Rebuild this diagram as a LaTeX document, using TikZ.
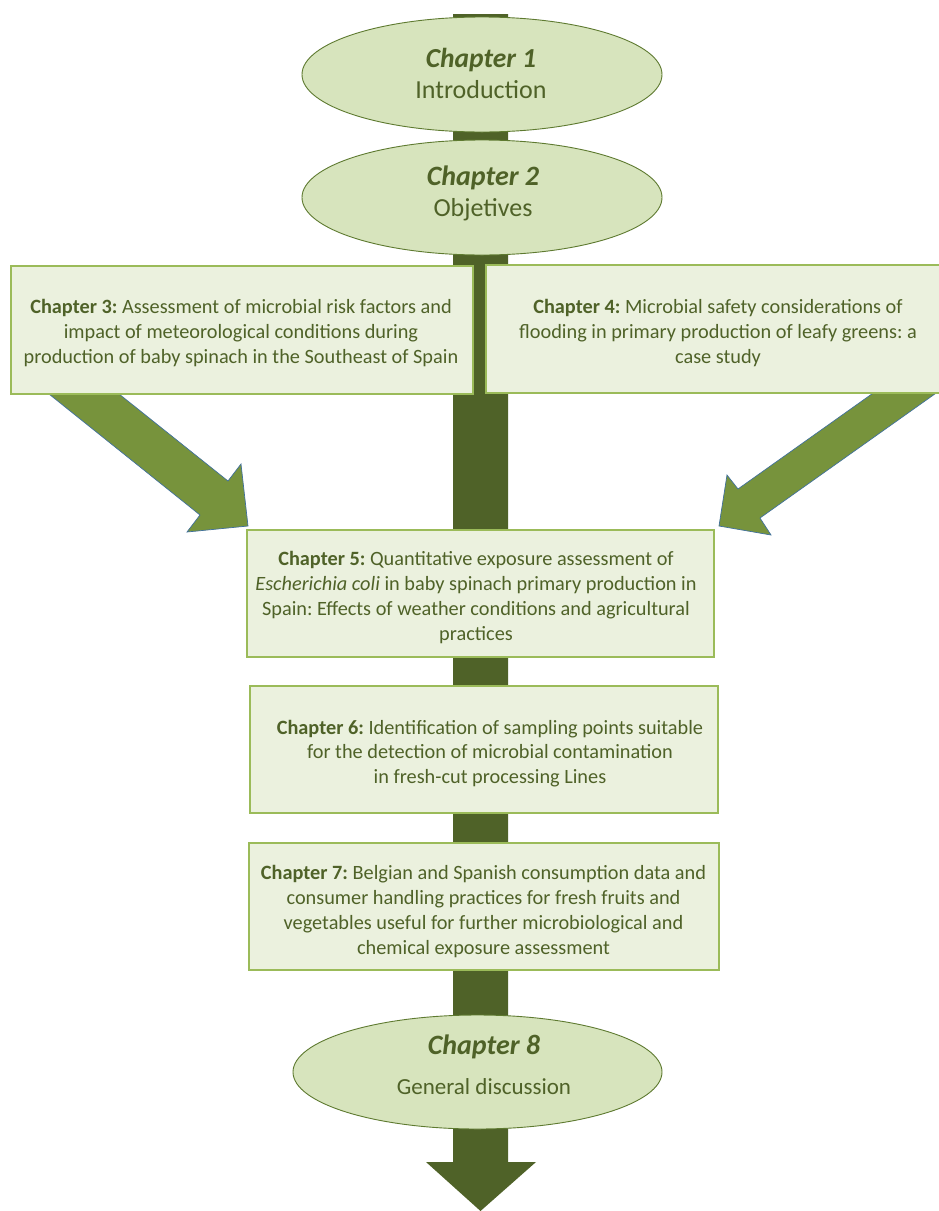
\documentclass[tikz,border=0pt]{standalone}
\usepackage{fontspec}
\setmainfont{Carlito}
\usetikzlibrary{shapes.geometric,calc}
\definecolor{shaftc}{HTML}{4F6228}
\definecolor{arrowc}{HTML}{77933C}
\definecolor{arrowline}{HTML}{41719C}
\definecolor{ellfill}{HTML}{D7E4BD}
\definecolor{ellline}{HTML}{5E7A30}
\definecolor{boxfill}{HTML}{EBF1DE}
\definecolor{boxline}{HTML}{9BBB59}
\definecolor{txt}{HTML}{4F6228}
\frenchspacing
\begin{document}
\begin{tikzpicture}[x=1pt,y=-1pt,
  chapell/.style={ellipse, draw=ellline, line width=0.9pt, fill=ellfill, inner sep=0pt},
  chapbox/.style={rectangle, draw=boxline, line width=1.4pt, fill=boxfill, inner sep=0pt},
  boxtext/.style={align=center, text=txt, inner sep=0pt, font=\fontsize{20.3}{24.8}\selectfont},
  elltext/.style={align=center, text=txt, inner sep=0pt},
  blockarrow/.style={fill=arrowc, draw=arrowline, line width=0.7pt, line join=miter}
]
\useasboundingbox (0,0) rectangle (939,1211);
\clip (0,0) rectangle (939,1211);
\fill[white] (0,0) rectangle (939,1211);

% main shaft
\coordinate (shafttop) at (480.5,14);
\coordinate (shafttip) at (480.5,1211);
\fill[shaftc] ($(shafttop)+(-27.5,0)$) -- ($(shafttop)+(27.5,0)$)
  -- ($(shafttip)+(27.5,-49)$) -- ($(shafttip)+(55.5,-49)$) -- (shafttip)
  -- ($(shafttip)+(-54.5,-49)$) -- ($(shafttip)+(-27.5,-49)$) -- cycle;

% diagonal block arrows
\path[blockarrow] (24,374) -- (94,374) -- (228,481) -- (241,464) -- (248,526)
  -- (187,532) -- (200,515) -- cycle;
\path[blockarrow] (900,374) -- (963,374) -- (760,518) -- (771,535) -- (719,526)
  -- (727,475) -- (738,489) -- cycle;

% boxes
\node[chapbox, minimum width=462pt, minimum height=128pt] (b3) at (242,330) {};
\node[chapbox, minimum width=464pt, minimum height=128pt] (b4) at (718,329) {};
\node[chapbox, minimum width=467pt, minimum height=127pt] (b5) at (480.5,593.5) {};
\node[chapbox, minimum width=468pt, minimum height=127pt] (b6) at (484,749.5) {};
\node[chapbox, minimum width=470pt, minimum height=127pt] (b7) at (484,906.5) {};

% ellipses
\node[chapell, minimum width=360pt, minimum height=115pt] (e1) at (482,74.5) {};
\node[chapell, minimum width=360pt, minimum height=115pt] (e2) at (482,197.5) {};
\node[chapell, minimum width=369pt, minimum height=114pt] (e8) at (477.5,1072) {};

% texts
\node[elltext, font=\fontsize{26}{31}\selectfont] (t1) at (481,73)
  {{\fontsize{27.5}{31}\selectfont\bfseries\itshape Chapter 1}\\Introduction};
\node[elltext, font=\fontsize{26}{31}\selectfont] (t2) at (483,193)
  {{\fontsize{28}{31}\selectfont\bfseries\itshape Chapter 2}\\Objetives};
\node[elltext, font=\fontsize{23}{40}\selectfont] (t8) at (484,1065)
  {{\fontsize{28}{40}\selectfont\bfseries\itshape Chapter 8}\\General discussion};

\node[boxtext] (t3) at (241,333)
  {\textbf{Chapter 3:} Assessment of microbial risk factors and\\
   impact of meteorological conditions during\\
   production of baby spinach in the Southeast of Spain};
\node[boxtext] (t4) at (718,333)
  {\textbf{Chapter 4:} Microbial safety considerations of\\
   flooding in primary production of leafy greens: a\\
   case study};
\node[boxtext] (t5) at (476,597.5)
  {\textbf{Chapter 5:} Quantitative exposure assessment of\\
   \textit{Escherichia coli} in baby spinach primary production in\\
   Spain: Effects of weather conditions and agricultural\\
   practices};
\node[boxtext] (t6) at (490,753.5)
  {\textbf{Chapter 6:} Identification of sampling points suitable\\
   for the detection of microbial contamination\\
   in fresh-cut processing Lines};
\node[boxtext] (t7) at (483.5,911.5)
  {\textbf{Chapter 7:} Belgian and Spanish consumption data and\\
   consumer handling practices for fresh fruits and\\
   vegetables useful for further microbiological and\\
   chemical exposure assessment};
\end{tikzpicture}
\end{document}
